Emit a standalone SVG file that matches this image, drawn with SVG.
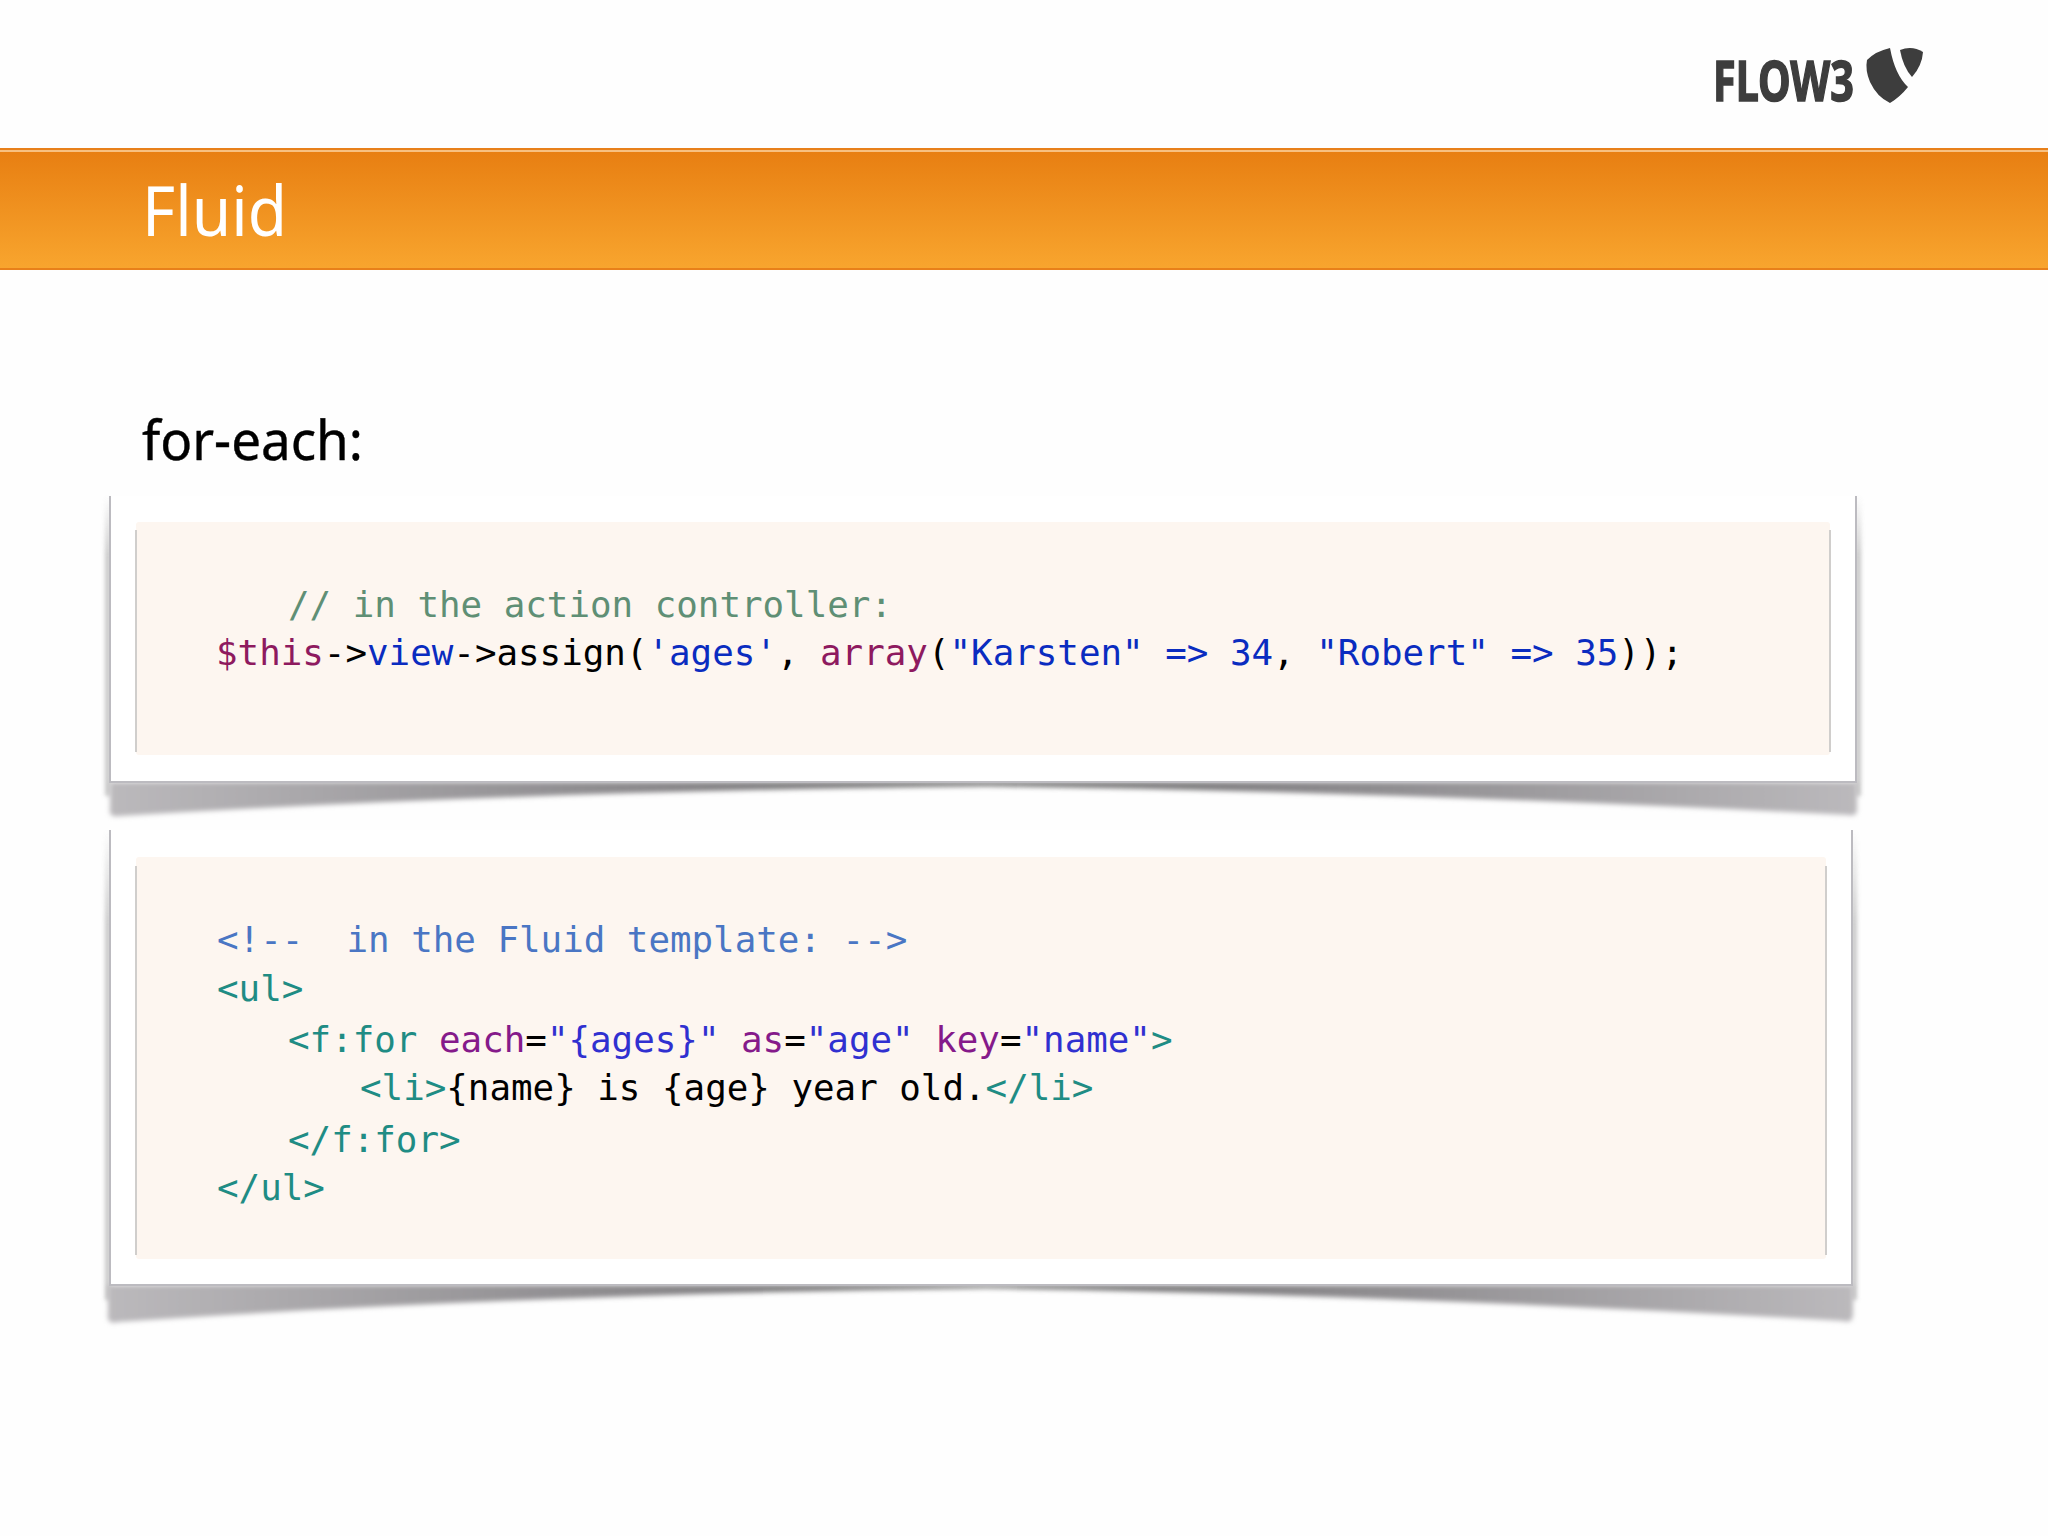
<svg xmlns="http://www.w3.org/2000/svg" width="2048" height="1536" viewBox="0 0 2048 1536">
<style>
.code{font-family:"DejaVu Sans Mono","Liberation Mono",monospace;font-size:35.85px;white-space:pre;fill:#000}
.head{font-family:"Noto Sans","Open Sans",sans-serif}
.cm{fill:#5f8f75}.var{fill:#8e1a5f}.mem{fill:#0a2cc0}.str{fill:#0a2cc0}.cb{fill:#4a76c4}
.tag{fill:#1f8c84}.attr{fill:#851a8a}.val{fill:#3030d0}
.box{fill:#fdf6f0}.card{fill:#fff}.edge{stroke:#bcbbc0;stroke-width:2;fill:none}
.ledge{stroke:#d0cecc;stroke-width:2;fill:none}
</style>
<defs>
<linearGradient id="bar" x1="0" y1="0" x2="0" y2="1"><stop offset="0" stop-color="#e87f12"/><stop offset="1" stop-color="#f8a52e"/></linearGradient>
<linearGradient id="sh" x1="0" y1="0" x2="1" y2="0"><stop offset="0" stop-color="#bbb9bc"/><stop offset=".3" stop-color="#8b898c"/><stop offset=".5" stop-color="#666"/><stop offset=".7" stop-color="#8b898c"/><stop offset="1" stop-color="#bbb9bc"/></linearGradient>
<linearGradient id="sl" x1="0" y1="0" x2="0" y2="1"><stop offset="0" stop-color="#bbb" stop-opacity="0"/><stop offset=".2" stop-color="#bbb"/><stop offset="1" stop-color="#bbb"/></linearGradient>
<filter id="b2" x="-5%" y="-30%" width="110%" height="160%"><feGaussianBlur stdDeviation="2.5"/></filter>
<filter id="b3" x="-200%" y="-5%" width="500%" height="110%"><feGaussianBlur stdDeviation="2"/></filter>
<filter id="b1" x="-5%" y="-5%" width="110%" height="110%"><feGaussianBlur stdDeviation="0.7"/></filter>
</defs>
<rect width="2048" height="1536" fill="#fefefe"/>
<g id="logo" fill="#3c3c3c">
<text x="1713" y="101" font-family="Noto Sans,sans-serif" font-weight="700" font-size="56" textLength="141" lengthAdjust="spacingAndGlyphs" stroke="#3c3c3c" stroke-width="1.5" filter="url(#b1)">FLOW3</text>
<path filter="url(#b1)" d="M1867 60Q1876 51 1890 48Q1895 75 1908 87Q1900 97 1890 103Q1877 97 1870 82Q1865 70 1867 60Z"/>
<path filter="url(#b1)" d="M1900 50Q1912 45 1923 52Q1922 66 1912 77Q1903 67 1900 50Z"/>
</g>
<g id="header">
<rect x="0" y="148" width="2048" height="122" fill="#e8801a"/>
<rect x="0" y="150" width="2048" height="2" fill="#f8c080"/>
<rect x="0" y="152" width="2048" height="116" fill="url(#bar)"/>
<text class="head" x="142" y="236" font-size="70" fill="#fff" textLength="145" lengthAdjust="spacingAndGlyphs">Fluid</text>
</g>
<text id="subtitle" class="head" x="142" y="460" font-size="54" fill="#000" stroke="#000" stroke-width=".4" textLength="221" lengthAdjust="spacingAndGlyphs">for-each:</text>
<g id="card1">
<rect x="105" y="496" width="6" height="300" fill="url(#sl)" filter="url(#b3)" opacity=".8"/>
<rect x="1855" y="496" width="6" height="300" fill="url(#sl)" filter="url(#b3)" opacity=".8"/>
<path d="M110 782H1857V809Q1858 817 1848 815Q1400 792 985 786Q500 792 120 816Q108 818 110 809Z" fill="url(#sh)" filter="url(#b2)"/>
<rect class="card" x="110" y="496" width="1746" height="286"/>
<path class="edge" d="M110 496V782H1856V496"/>
<rect class="box" x="136" y="522" width="1694" height="233" rx="3"/>
<path class="ledge" d="M136 530V752M1830 530V752"/>
<text class="code" y="617" x="288"><tspan class="cm">// in the action controller:</tspan></text>
<text class="code" y="665" x="216"><tspan class="var">$this</tspan>-&gt;<tspan class="mem">view</tspan>-&gt;assign(<tspan class="str">'ages'</tspan>, <tspan class="var">array</tspan>(<tspan class="str">"Karsten"</tspan> <tspan class="str">=&gt;</tspan> <tspan class="str">34</tspan>, <tspan class="str">"Robert"</tspan> <tspan class="str">=&gt;</tspan> <tspan class="str">35</tspan>));</text>
</g>
<g id="card2">
<rect x="105" y="830" width="6" height="470" fill="url(#sl)" filter="url(#b3)" opacity=".8"/>
<rect x="1851" y="830" width="6" height="470" fill="url(#sl)" filter="url(#b3)" opacity=".8"/>
<path d="M108 1285H1853V1314Q1853 1324 1843 1321Q1400 1295 985 1288Q500 1295 118 1322Q106 1325 108 1314Z" fill="url(#sh)" filter="url(#b2)"/>
<rect class="card" x="110" y="830" width="1742" height="455"/>
<path class="edge" d="M110 830V1285H1852V830"/>
<rect class="box" x="136" y="857" width="1690" height="402" rx="3"/>
<path class="ledge" d="M136 866V1255M1826 866V1255"/>
<text class="code" y="952" x="217"><tspan class="cb">&lt;!--  in the Fluid template: --&gt;</tspan></text>
<text class="code" y="1001" x="217"><tspan class="tag">&lt;ul&gt;</tspan></text>
<text class="code" y="1052" x="288"><tspan class="tag">&lt;f:for</tspan> <tspan class="attr">each</tspan>=<tspan class="val">"{ages}"</tspan> <tspan class="attr">as</tspan>=<tspan class="val">"age"</tspan> <tspan class="attr">key</tspan>=<tspan class="val">"name"</tspan><tspan class="tag">&gt;</tspan></text>
<text class="code" y="1100" x="360"><tspan class="tag">&lt;li&gt;</tspan>{name} is {age} year old.<tspan class="tag">&lt;/li&gt;</tspan></text>
<text class="code" y="1152" x="288"><tspan class="tag">&lt;/f:for&gt;</tspan></text>
<text class="code" y="1200" x="217"><tspan class="tag">&lt;/ul&gt;</tspan></text>
</g>
</svg>
